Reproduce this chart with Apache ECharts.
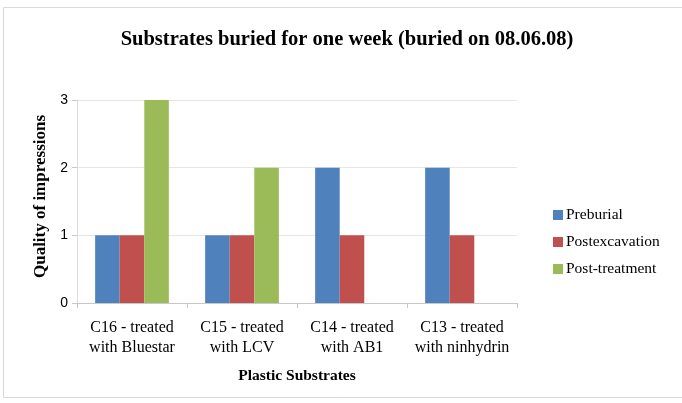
<!DOCTYPE html>
<html>
<head>
<meta charset="utf-8">
<script src="https://cdn.jsdelivr.net/npm/echarts@6/dist/echarts.min.js"></script>
<style>
html, body { margin: 0; padding: 0; background: #fff; }
#ct1 { width: 682px; height: 403px; }
</style>
</head>
<body>
<div id="ct1"></div>
<script>
var categories = ['C16 - treated\nwith Bluestar', 'C15 - treated\nwith LCV', 'C14 - treated\nwith AB1', 'C13 - treated\nwith ninhydrin'];
var seriesNames = ['Preburial', 'Postexcavation', 'Post-treatment'];
var preburial = [1, 1, 2, 2];
var postexcavation = [1, 1, 1, 1];
var posttreatment = [3, 2, 0, 0];
var yTicks = [0, 1, 2, 3];
var colors = ['#4F81BD', '#C0504D', '#9BBB59'];

var serif = '"Liberation Serif", "Times New Roman", serif';
var sans = '"Liberation Sans", Arial, sans-serif';

var option1 = {
	animation: false,
	color: colors,
	graphic: [{
		type: 'rect',
		shape: { x: 3.5, y: 7.5, width: 690, height: 390 },
		style: { fill: 'none', stroke: '#d9d9d9', lineWidth: 1 }
	}],
	title: {
		text: 'Substrates buried for one week (buried on 08.06.08)',
		left: 342,
		textAlign: 'center',
		top: 24,
		textStyle: { fontFamily: serif, fontSize: 20.5, fontWeight: 'bold', color: '#000' }
	},
	legend: {
		orient: 'vertical',
		left: 548,
		top: 202,
		itemWidth: 10,
		itemHeight: 10,
		itemGap: 11,
		itemStyle: { borderWidth: 0 },
		icon: 'rect',
		data: seriesNames,
		textStyle: { fontFamily: serif, fontSize: 15.5, color: '#000', padding: [0, 0, 0, -2] }
	},
	grid: { left: 77, right: 165, top: 100, bottom: 100 },
	xAxis: [{
		type: 'category',
		data: categories,
		axisLine: { lineStyle: { color: '#c8c8c8' } },
		axisTick: { show: true, length: 5, lineStyle: { color: '#c8c8c8' } },
		axisLabel: { interval: 0, fontFamily: serif, fontSize: 16, color: '#000', margin: 15, lineHeight: 20 },
		name: 'Plastic Substrates',
		nameLocation: 'middle',
		nameGap: 65,
		nameTextStyle: { fontFamily: serif, fontSize: 15.5, fontWeight: 'bold', color: '#000' }
	}],
	yAxis: [{
		type: 'value',
		min: yTicks[0],
		max: yTicks[yTicks.length - 1],
		interval: 1,
		axisLine: { show: true, lineStyle: { color: '#dcdcdc' } },
		axisTick: { show: true, length: 5, lineStyle: { color: '#c8c8c8' } },
		splitLine: { lineStyle: { color: '#e6e6e6' } },
		axisLabel: { fontFamily: sans, fontSize: 14, color: '#000', margin: 9 },
		name: 'Quality of impressions',
		nameLocation: 'middle',
		nameGap: 27,
		nameTextStyle: { fontFamily: serif, fontSize: 17, fontWeight: 'bold', color: '#000', padding: [0, 0, 0, 10] }
	}],
	series: [
		{ name: seriesNames[0], type: 'bar', data: preburial, barGap: '0%', barCategoryGap: '33%' },
		{ name: seriesNames[1], type: 'bar', data: postexcavation, barGap: '0%', barCategoryGap: '33%' },
		{ name: seriesNames[2], type: 'bar', data: posttreatment, barGap: '0%', barCategoryGap: '33%' }
	]
};

var myChart1 = echarts.init(document.getElementById('ct1'));
myChart1.setOption(option1, true);
</script>
</body>
</html>
